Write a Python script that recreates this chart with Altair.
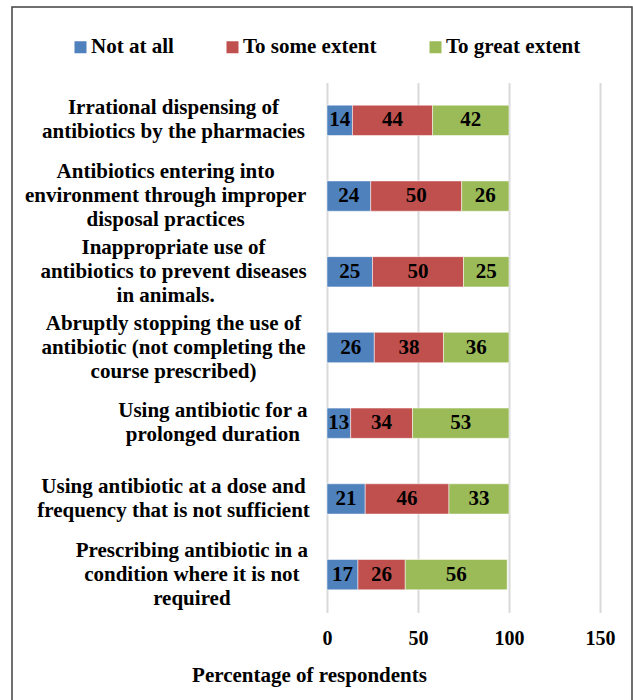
import altair as alt
import pandas as pd

NB = "\u00a0"
ZW = "\u200b"


def lead(n, s):
    return ZW + NB * n + s


def trail(n, s):
    return s + NB * n + ZW


categories = [
    "Irrational dispensing of|antibiotics by the pharmacies",
    "|".join(trail(3, s) for s in ["Antibiotics entering into", "environment through improper", "disposal practices"]),
    "Inappropriate use of|antibiotics to prevent diseases|" + trail(3, "in animals."),
    "Abruptly stopping the use of|antibiotic (not completing the|course prescribed)",
    "|".join(lead(15, s) for s in ["Using antibiotic for a", "prolonged duration"]),
    "Using antibiotic at a dose and|frequency that is not sufficient",
    "|".join(lead(7, s) for s in ["Prescribing antibiotic in a", "condition where it is not", "required"]),
]
series = ["Not at all", "To some extent", "To great extent"]
not_at_all = [14, 24, 25, 26, 13, 21, 17]
some_extent = [44, 50, 50, 38, 34, 46, 26]
great_extent = [42, 26, 25, 36, 53, 33, 56]
colors = ["#4f81bd", "#c0504d", "#9bbb59"]
x_ticks = [0, 50, 100, 150]

rows = []
for i, c in enumerate(categories):
    for j, (s, vals) in enumerate(zip(series, [not_at_all, some_extent, great_extent])):
        rows.append({"category": c, "series": s, "order": j, "value": vals[i]})
df = pd.DataFrame(rows)

FONT = "Liberation Serif"

base = alt.Chart(df).transform_stack(
    stack="value", groupby=["category"], as_=["start", "end"],
    sort=[alt.SortField("order", order="ascending")],
).transform_calculate(mid="(datum.start + datum.end) / 2")

y_enc = alt.Y(
    "category:N", sort=categories, title=None,
    scale=alt.Scale(paddingInner=0.6, paddingOuter=0.3),
    axis=alt.Axis(
        labelExpr="split(datum.label, '|')",
        labelAlign="center",
        labelBaseline={
            "condition": {"test": "length(split(datum.value, '|')) > 2", "value": "line-bottom"},
            "value": "middle",
        },
        labelOffset=-12,
        labelPadding=154,
        labelFont=FONT, labelFontWeight="bold", labelFontSize=21,
        labelLineHeight=24, labelColor="black", labelLimit=0,
        domain=False, ticks=False, grid=False,
    ),
)

bars = base.mark_bar(stroke="white", strokeWidth=0.5).encode(
    y=y_enc,
    x=alt.X(
        "start:Q", title="Percentage of respondents",
        scale=alt.Scale(domain=[0, 150], nice=False),
        axis=alt.Axis(
            values=x_ticks, grid=True, gridColor="#d9d9d9", gridWidth=2,
            domain=False, ticks=False, tickSize=0, labelPadding=16,
            labelFlush=False,
            labelFont=FONT, labelFontWeight="bold", labelFontSize=20,
            labelColor="black",
            titleFont=FONT, titleFontWeight="bold", titleFontSize=21,
            titleColor="black", titleX=-18, titleY=63,
            titleAlign="center", titleBaseline="middle",
        ),
    ),
    x2="end:Q",
    color=alt.Color(
        "series:N", sort=series,
        scale=alt.Scale(domain=series, range=colors),
        legend=alt.Legend(
            title=None, orient="none", direction="horizontal",
            legendX=-257, legendY=-46,
            symbolType="square", symbolSize=144, symbolStrokeWidth=0,
            labelFont=FONT, labelFontWeight="bold", labelFontSize=21,
            labelColor="black", labelOffset=0, columnPadding=48,
            labelLimit=0,
        ),
    ),
)

labels = base.mark_text(
    font=FONT, fontWeight="bold", fontSize=21, color="black", baseline="middle"
).encode(
    y=alt.Y("category:N", sort=categories),
    x=alt.X("mid:Q"),
    text=alt.Text("value:Q"),
)

border = alt.Chart(alt.Data(values=[{}])).mark_rect(
    filled=False, stroke="#404040", strokeWidth=1.5
).encode(
    x=alt.value(-315), x2=alt.value(305), y=alt.value(-75.5), y2=alt.value(640)
)

chart = alt.layer(border, bars, labels).properties(
    width=273, height=530,
    autosize=alt.AutoSizeParams(type="none"),
    padding={"left": 327, "top": 82.5, "right": 33, "bottom": 87.5},
).configure_view(stroke=None)

chart.save("out.html", embed_options={"renderer": "svg", "actions": False})
